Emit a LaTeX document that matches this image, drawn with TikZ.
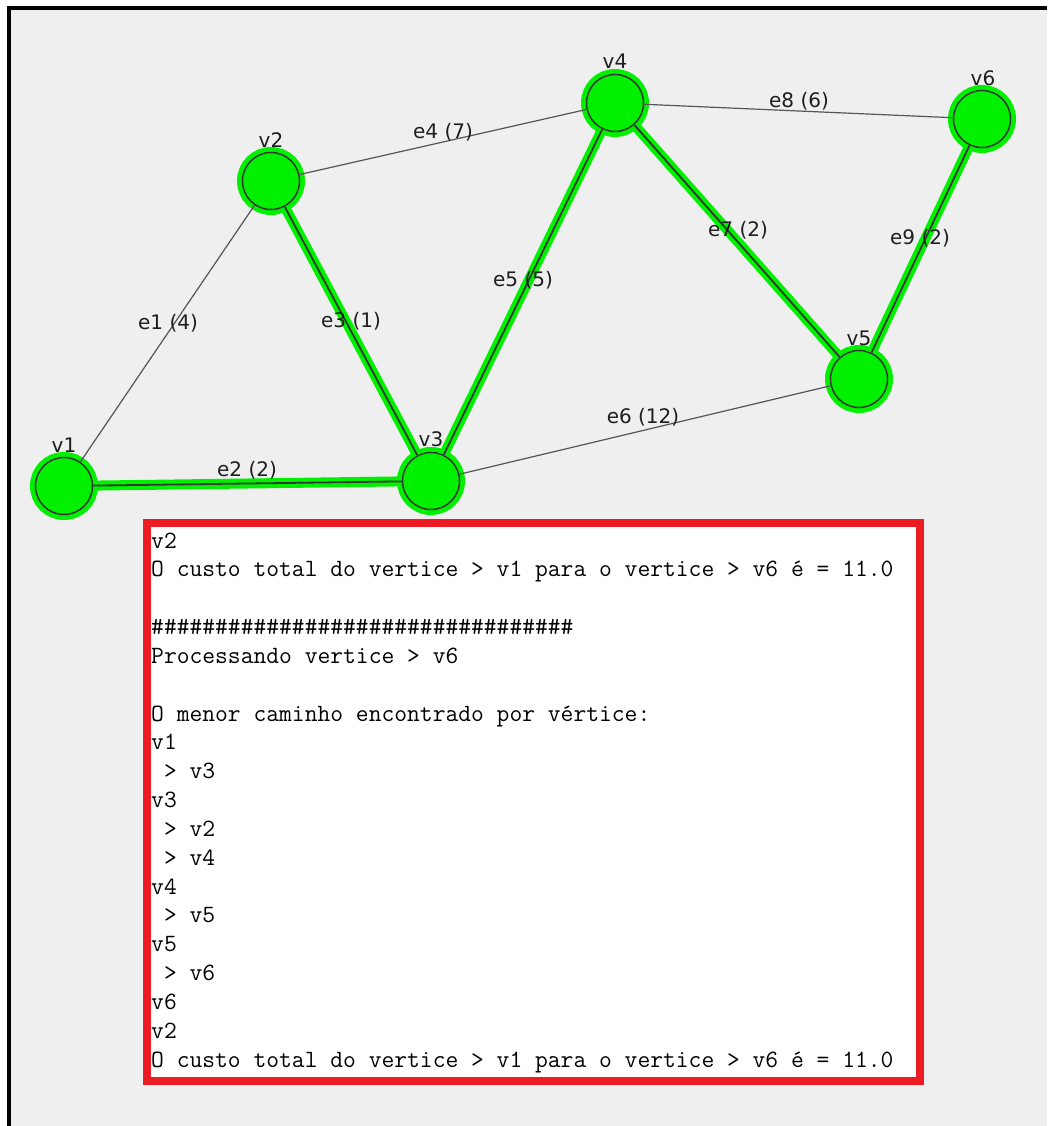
\documentclass[tikz,border=0pt]{standalone}
\usepackage{fontspec}
\newfontfamily\graphfont{DejaVu Sans}
\definecolor{bggray}{HTML}{EFEFEF}
\definecolor{nodegreen}{HTML}{00F000}
\definecolor{edgedark}{HTML}{363636}
\definecolor{thingray}{HTML}{555555}
\definecolor{txtdark}{HTML}{1E1E1E}
\definecolor{boxred}{HTML}{ED1C24}
\tikzset{
  vertex/.style={circle, minimum size=57pt, inner sep=0pt, fill=nodegreen, draw=edgedark, line width=1.5pt,
    preaction={draw=nodegreen, line width=11pt}},
  vlabel/.style={inner sep=0pt, text=txtdark, font=\graphfont\fontsize{20}{23}\selectfont},
  elabel/.style={inner sep=0pt, text=txtdark, font=\graphfont\fontsize{20}{23}\selectfont},
  thinedge/.style={draw=thingray, line width=1.2pt},
  hotedge/.style={draw=edgedark, line width=1.8pt, preaction={draw=nodegreen, line width=10pt}},
  logbox/.style={draw=boxred, fill=white, line width=8pt, minimum width=773pt, minimum height=558pt, inner sep=0pt},
  logline/.style={anchor=base west, inner sep=0pt, text=black, font=\ttfamily\fontsize{24.85}{28.8}\selectfont}
}
\begin{document}
\begin{tikzpicture}[x=1pt,y=-1pt]
\useasboundingbox (0,0) rectangle (1047,1126);
\fill[white] (0,0) rectangle (1047,1126);
\fill[bggray] (11,10) rectangle (1047,1126);
\fill[black] (7,6) rectangle (1047,10);
\fill[black] (7,6) rectangle (11,1126);

% vertices
\node[vertex] (v1) at (64,486) {};
\node[vertex] (v2) at (271,181) {};
\node[vertex] (v3) at (431,481) {};
\node[vertex] (v4) at (615,103) {};
\node[vertex] (v5) at (859,379) {};
\node[vertex] (v6) at (982,119) {};

% edges
\draw[thinedge] (v1) -- (v2);
\draw[thinedge] (v2) -- (v4);
\draw[thinedge] (v3) -- (v5);
\draw[thinedge] (v4) -- (v6);
\draw[hotedge] (v1) -- (v3);
\draw[hotedge] (v2) -- (v3);
\draw[hotedge] (v3) -- (v4);
\draw[hotedge] (v4) -- (v5);
\draw[hotedge] (v5) -- (v6);

% vertex labels
\node[vlabel] (lv1) at (64,445) {v1};
\node[vlabel] (lv2) at (271,140) {v2};
\node[vlabel] (lv3) at (431,439) {v3};
\node[vlabel] (lv4) at (615,61) {v4};
\node[vlabel] (lv5) at (859,338) {v5};
\node[vlabel] (lv6) at (983,78) {v6};

% edge labels
\node[elabel] (le1) at (168,323) {e1 (4)};
\node[elabel] (le2) at (247,470) {e2 (2)};
\node[elabel] (le3) at (351,321) {e3 (1)};
\node[elabel] (le4) at (443,132) {e4 (7)};
\node[elabel] (le5) at (523,280) {e5 (5)};
\node[elabel] (le6) at (643,417) {e6 (12)};
\node[elabel] (le7) at (738,230) {e7 (2)};
\node[elabel] (le8) at (799,101) {e8 (6)};
\node[elabel] (le9) at (920,238) {e9 (2)};

% log box
\node[logbox] (box) at (533.5,802) {};
\node[logline] (t1) at (151,548) {v2};
\node[logline] (t2) at (151,576.83) {O custo total do vertice > v1 para o vertice > v6 é = 11.0};
\node[logline] (t4) at (151,634.5) {\#\#\#\#\#\#\#\#\#\#\#\#\#\#\#\#\#\#\#\#\#\#\#\#\#\#\#\#\#\#\#\#\#};
\node[logline] (t5) at (151,663.33) {Processando vertice > v6};
\node[logline] (t7) at (151,721) {O menor caminho encontrado por vértice:};
\node[logline] (t8) at (151,749.83) {v1};
\node[logline] (t9) at (151,778.67) {\hphantom{>}> v3};
\node[logline] (t10) at (151,807.5) {v3};
\node[logline] (t11) at (151,836.33) {\hphantom{>}> v2};
\node[logline] (t12) at (151,865.17) {\hphantom{>}> v4};
\node[logline] (t13) at (151,894) {v4};
\node[logline] (t14) at (151,922.83) {\hphantom{>}> v5};
\node[logline] (t15) at (151,951.67) {v5};
\node[logline] (t16) at (151,980.5) {\hphantom{>}> v6};
\node[logline] (t17) at (151,1009.33) {v6};
\node[logline] (t18) at (151,1038.17) {v2};
\node[logline] (t19) at (151,1067) {O custo total do vertice > v1 para o vertice > v6 é = 11.0};
\end{tikzpicture}
\end{document}
